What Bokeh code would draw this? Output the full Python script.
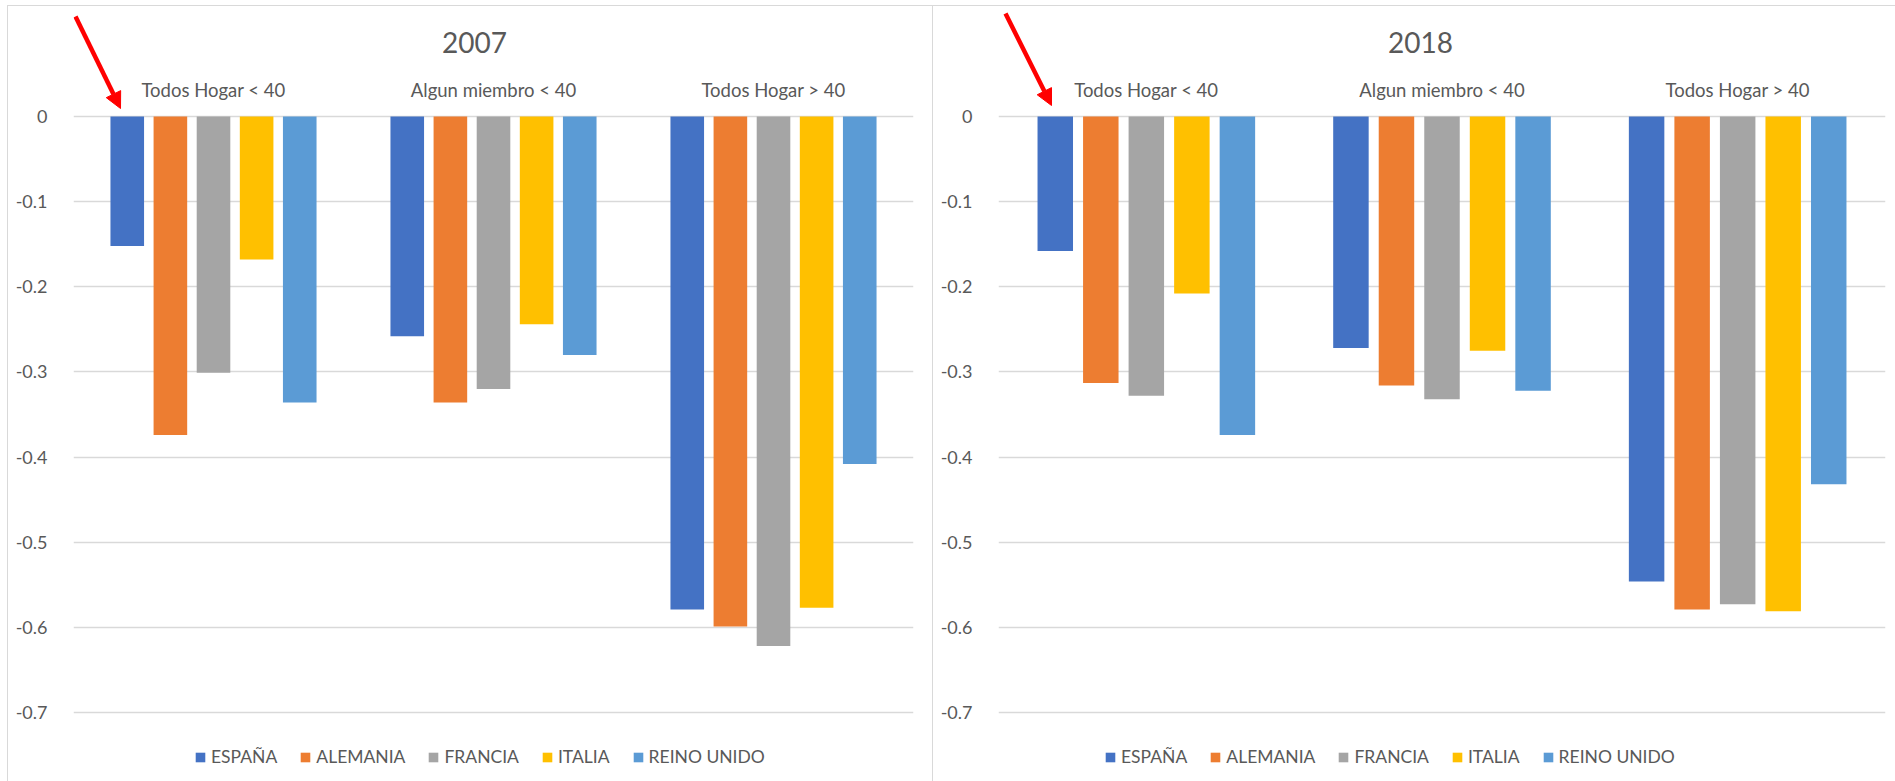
from bokeh.plotting import figure
from bokeh.models import (ColumnDataSource, FixedTicker, PrintfTickFormatter, Legend,
                          LegendItem, Label, Arrow, NormalHead, Range1d)
from bokeh.core.properties import value
from bokeh.transform import dodge
from bokeh.layouts import row
from bokeh.embed import file_html
from bokeh.resources import INLINE

categories = ["Todos Hogar < 40", "Algun miembro < 40", "Todos Hogar > 40"]
countries = ["ESPAÑA", "ALEMANIA", "FRANCIA", "ITALIA", "REINO UNIDO"]
colors = ["#4472C4", "#ED7D31", "#A5A5A5", "#FFC000", "#5B9BD5"]
y_ticks = [0, -0.1, -0.2, -0.3, -0.4, -0.5, -0.6, -0.7]

espana_2007 = [-0.152, -0.258, -0.579]
alemania_2007 = [-0.374, -0.336, -0.599]
francia_2007 = [-0.301, -0.320, -0.622]
italia_2007 = [-0.168, -0.244, -0.577]
reino_2007 = [-0.336, -0.280, -0.408]

espana_2018 = [-0.158, -0.272, -0.546]
alemania_2018 = [-0.313, -0.316, -0.579]
francia_2018 = [-0.328, -0.332, -0.573]
italia_2018 = [-0.208, -0.275, -0.581]
reino_2018 = [-0.374, -0.322, -0.432]

FONT = "Lato"
TXT = "#595959"
GRID = "#D9D9D9"
PITCH = 0.154
BAR_W = 0.12
H = 776
ZERO_PX = 111          # canvas px from top to the 0 line
PX_PER_UNIT = 596 / 0.7


def make_chart(title, series, width, border_left, border_right, title_x, legend_x,
               arrow_pts, shadow):
    data = {"cat": categories}
    for name, vals in zip(countries, series):
        data[name] = vals
    src = ColumnDataSource(data)
    y_top = ZERO_PX / PX_PER_UNIT
    y_bot = -(H - ZERO_PX) / PX_PER_UNIT
    p = figure(x_range=categories, y_range=Range1d(y_bot, y_top),
               width=width, height=H, output_backend="svg", toolbar_location=None,
               x_axis_location=None, min_border_left=border_left,
               min_border_right=border_right, min_border_top=0, min_border_bottom=0,
               border_fill_color=None, background_fill_color=None, outline_line_color=None)
    p.styles = {"box-shadow": shadow}
    renderers = []
    for i, (name, col) in enumerate(zip(countries, colors)):
        r = p.vbar(x=dodge("cat", (i - 2) * PITCH, range=p.x_range), top=0, bottom=name,
                   width=BAR_W, source=src, fill_color=col, line_color=None)
        renderers.append(r)
    # category labels above the zero line
    p.text(x="cat", y=0.0317, text="cat", source=src, text_align="center",
           text_baseline="middle", text_font=value(FONT), text_font_size="18.5px",
           text_color=TXT)
    # y axis
    ya = p.yaxis[0]
    ya.ticker = FixedTicker(ticks=y_ticks)
    ya.formatter = PrintfTickFormatter(format="%g")
    ya.axis_line_color = None
    ya.major_tick_line_color = None
    ya.minor_tick_line_color = None
    ya.major_label_text_font = FONT
    ya.major_label_text_font_size = "18px"
    ya.major_label_text_color = TXT
    ya.major_label_standoff = 20
    p.xgrid.grid_line_color = None
    p.ygrid.grid_line_color = GRID
    p.ygrid.grid_line_width = 1.3
    p.ygrid.ticker = FixedTicker(ticks=y_ticks)
    # title
    p.add_layout(Label(x=title_x, y=(ZERO_PX - 37) / PX_PER_UNIT, x_units="screen",
                       y_units="data", text=title, text_align="center",
                       text_baseline="middle", text_font=FONT,
                       text_font_size="28px", text_color=TXT))
    # legend
    items = [LegendItem(label=n, renderers=[r]) for n, r in zip(countries, renderers)]
    leg = Legend(items=items, orientation="horizontal", location=(legend_x, 14),
                 glyph_width=12, glyph_height=12, label_standoff=5, spacing=22,
                 padding=0, margin=0, border_line_color=None, background_fill_alpha=0,
                 label_text_font=FONT, label_text_font_size="17.5px", label_text_color=TXT,
                 label_height=12)
    p.add_layout(leg)
    # red arrow
    (x0, y0), (x1, y1) = arrow_pts
    p.add_layout(Arrow(x_start=x0, y_start=y0, x_end=x1, y_end=y1,
                       start_units="screen", end_units="screen",
                       line_color="#FF0000", line_width=4.5,
                       end=NormalHead(size=16, fill_color="#FF0000", line_color="#FF0000")))
    return p


p1 = make_chart("2007",
                [espana_2007, alemania_2007, francia_2007, italia_2007, reino_2007],
                926, 66, 20, 401, 121, ((2, 765), (47, 673)),
                "inset 1px 1px 0 #D9D9D9, inset -1px 0 0 #D9D9D9")
p2 = make_chart("2018",
                [espana_2018, alemania_2018, francia_2018, italia_2018, reino_2018],
                962, 65, 10, 422, 106, ((7, 768), (53, 676)),
                "inset 0 1px 0 #D9D9D9")

layout = row(p1, p2, margin=(5, 0, 0, 7))
open("out.html", "w").write(file_html(layout, INLINE))
